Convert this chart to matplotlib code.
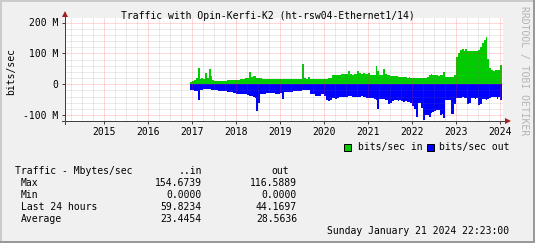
import numpy as np
import matplotlib
matplotlib.use("Agg")
import matplotlib.pyplot as plt
from matplotlib.patches import Rectangle
from matplotlib.lines import Line2D
from matplotlib.transforms import blended_transform_factory, ScaledTranslation

W, H, DPI = 535, 243, 100

# ---------------- data (Mbit/s, half-month averages from mid Dec 2016) ----------------
bins_per_year = 24
start_year = 2016 + 23 / 24
end_year = 2024 + 20.93 / 366

in_2016 = [6]
in_2017 = [12, 14, 19, 54, 17, 19, 18, 36, 20, 50, 26, 14, 12, 11, 11, 11, 11, 12, 12, 13, 13, 14, 14, 14]
in_2018 = [14, 15, 16, 17, 18, 20, 22, 40, 24, 26, 26, 22, 21, 19, 18, 17, 17, 17, 17, 17, 17, 17, 17, 17]
in_2019 = [17, 17, 17, 17, 16, 17, 17, 17, 17, 18, 17, 17, 67, 19, 17, 24, 17, 17, 17, 17, 18, 18, 18, 18]
in_2020 = [18, 18, 19, 20, 29, 30, 31, 31, 30, 32, 32, 33, 32, 43, 32, 31, 33, 32, 43, 36, 35, 36, 35, 32]
in_2021 = [38, 30, 29, 30, 60, 42, 30, 30, 50, 34, 30, 29, 28, 27, 27, 26, 24, 24, 23, 23, 23, 22, 23, 22]
in_2022 = [20, 20, 21, 21, 22, 22, 21, 22, 23, 29, 35, 31, 31, 29, 28, 29, 30, 40, 25, 24, 24, 24, 25, 30]
in_2023 = [90, 100, 112, 113, 107, 113, 108, 107, 108, 107, 107, 107, 110, 122, 135, 145, 155, 83, 52, 45, 42, 45, 46, 46]
in_2024 = [62]

out_2016 = [18]
out_2017 = [20, 21, 22, 50, 18, 17, 15, 16, 15, 16, 17, 18, 20, 20, 21, 21, 22, 22, 23, 24, 25, 26, 27, 28]
out_2018 = [30, 31, 31, 32, 32, 33, 36, 38, 38, 42, 45, 88, 60, 32, 30, 30, 28, 28, 27, 27, 28, 30, 32, 30]
out_2019 = [27, 48, 25, 25, 25, 25, 24, 22, 22, 22, 22, 22, 20, 20, 20, 18, 30, 32, 33, 38, 38, 37, 33, 32]
out_2020 = [38, 52, 54, 50, 43, 45, 47, 46, 42, 40, 40, 41, 40, 38, 38, 40, 40, 41, 42, 40, 39, 41, 40, 43]
out_2021 = [45, 46, 45, 47, 50, 80, 47, 48, 48, 50, 52, 65, 62, 55, 52, 52, 53, 52, 55, 56, 55, 58, 57, 60]
out_2022 = [70, 79, 106, 60, 62, 77, 116, 100, 100, 106, 92, 90, 88, 84, 84, 98, 96, 109, 52, 50, 52, 95, 95, 65]
out_2023 = [43, 45, 43, 42, 45, 44, 63, 60, 46, 46, 47, 45, 66, 65, 49, 48, 50, 49, 44, 41, 40, 41, 49, 40]
out_2024 = [52]

traffic_in = in_2016 + in_2017 + in_2018 + in_2019 + in_2020 + in_2021 + in_2022 + in_2023 + in_2024
traffic_out = out_2016 + out_2017 + out_2018 + out_2019 + out_2020 + out_2021 + out_2022 + out_2023 + out_2024

year_labels = [2015, 2016, 2017, 2018, 2019, 2020, 2021, 2022, 2023, 2024]
y_ticks = [-100e6, 0, 100e6, 200e6]
y_tick_labels = ["-100 M", "0", "100 M", "200 M"]

title = "Traffic with Opin-Kerfi-K2 (ht-rsw04-Ethernet1/14)"
series_names = ["bits/sec in", "bits/sec out"]
stat_names = ["Max", "Min", "Last 24 hours", "Average"]
stats_in = [154.6739, 0.0, 59.8234, 23.4454]
stats_out = [116.5889, 0.0, 44.1697, 28.5636]
timestamp = "Sunday January 21 2024 22:23:00"

# ---------------- style ----------------
GREEN = "#00CC00"
BLUE = "#0000FF"
BACK = "#F0F0F0"
FONT = "DejaVu Sans Mono"
FS = 7
plt.rcParams["font.family"] = [FONT]

fig = plt.figure(figsize=(W / DPI, H / DPI), dpi=DPI, facecolor=BACK)


def fx(px):
    return px / W


def fy(py):
    return 1 - py / H


# plot area in pixels
L, R, T, B = 64.5, 503, 18, 121
ax = fig.add_axes([fx(L), fy(B), fx(R) - fx(L), fy(T) - fy(B)])
ax.set_facecolor("white")
ax.set_xlim(2014.095, 2024.061)
ax.set_ylim(-119e6, 215e6)
for s in ax.spines.values():
    s.set_visible(False)

# data
edges = start_year + np.arange(len(traffic_in) + 1) / bins_per_year
edges[-1] = min(edges[-1], end_year)
vin = np.array(traffic_in, float) * 1e6
vout = np.array(traffic_out, float) * 1e6
ax.fill_between(edges, np.r_[vin, vin[-1]], 0, step="post", color=GREEN, lw=0, zorder=2)
ax.fill_between(edges, -np.r_[vout, vout[-1]], 0, step="post", color=BLUE, lw=0, zorder=2)

# grid (drawn over data, semi-transparent like rrdtool)
minor_kw = dict(color="#707070", alpha=0.28, lw=0.72, ls=(0, (1, 1)), zorder=3)
major_kw = dict(color="#FF3030", alpha=0.36, lw=0.72, ls=(0, (1, 1)), zorder=3)
for v in np.arange(-100e6, 215e6, 20e6):
    if abs(v) % 100e6 < 1:
        ax.axhline(v, **major_kw)
    else:
        ax.axhline(v, **minor_kw)
for yr in range(2014, 2025):
    for q in range(4):
        x = yr + q / 4
        if q == 0:
            if yr in year_labels:
                ax.axvline(x, **major_kw)
        else:
            ax.axvline(x, **minor_kw)

# ticks
ax.set_xticks(year_labels)
ax.set_xticklabels([])
ax.set_yticks(y_ticks)
ax.set_yticklabels([])
ax.tick_params(axis="both", length=2.2, width=0.72, color="#404040", direction="out")

# axes lines with arrows (in pixel space)
AX_COL = "#404040"
ARROW = "#A02020"
fig.add_artist(Line2D([fx(L), fx(L)], [fy(B + 3), fy(15)], color=AX_COL, lw=0.72))
fig.add_artist(Line2D([fx(L - 3), fx(R + 3)], [fy(B), fy(B)], color=AX_COL, lw=0.72))
fig.add_artist(Line2D([fx(L)], [fy(14.5)], marker="^", ms=4.5, color=ARROW, mew=0))
fig.add_artist(Line2D([fx(R + 5)], [fy(B)], marker=">", ms=4.5, color=ARROW, mew=0))

# text helpers
down = ScaledTranslation(0, -3.5 / DPI, fig.dpi_scale_trans)
ylab_tr = blended_transform_factory(fig.transFigure, ax.transData) + down
xlab_tr = blended_transform_factory(ax.transData, fig.transFigure)

for v, lab in zip(y_ticks, y_tick_labels):
    fig.text(fx(58), v, lab, transform=ylab_tr, ha="right", va="baseline", fontsize=FS)
for yr in year_labels:
    fig.text(yr, fy(135), str(yr), transform=xlab_tr, ha="center", va="baseline", fontsize=FS)

fig.text(0.5, fy(19), title, ha="center", va="baseline", fontsize=FS)
fig.text(fx(11), fy(71.5), "bits/sec", rotation=90, ha="center", va="center", fontsize=FS)
fig.text(fx(523.5), fy(71), "RRDTOOL / TOBI OETIKER", rotation=270, ha="center", va="center",
         fontsize=FS, color="#B4B4B4")

# legend
for (sx, tx), col, name in zip([(344, 357.8), (426.7, 439.3)], [GREEN, BLUE], series_names):
    fig.add_artist(Rectangle((fx(sx), fy(151)), fx(7), 7 / H, facecolor=col, edgecolor="black",
                             lw=0.72, transform=fig.transFigure))
    fig.text(fx(tx), fy(150), name, ha="left", va="baseline", fontsize=FS)

# stats block
fig.text(fx(15), fy(174), "Traffic - Mbytes/sec", ha="left", va="baseline", fontsize=FS)
fig.text(fx(201.7), fy(174), "..in", ha="right", va="baseline", fontsize=FS)
fig.text(fx(288.7), fy(174), "out", ha="right", va="baseline", fontsize=FS)
for i, (n, a, b) in enumerate(zip(stat_names, stats_in, stats_out)):
    yb = 186 + 12 * i
    fig.text(fx(20.7), fy(yb), n, ha="left", va="baseline", fontsize=FS)
    fig.text(fx(201.7), fy(yb), f"{a:.4f}", ha="right", va="baseline", fontsize=FS)
    fig.text(fx(297), fy(yb), f"{b:.4f}", ha="right", va="baseline", fontsize=FS)
fig.text(fx(509.3), fy(234), timestamp, ha="right", va="baseline", fontsize=FS)

# 3D-ish border
def rect_px(x, y, w, h, col):
    fig.add_artist(Rectangle((fx(x), fy(y + h)), w / W, h / H, facecolor=col, edgecolor="none",
                             lw=0, transform=fig.transFigure, antialiased=False))

rect_px(0, 0, W, 2, "#CBCBCB")
rect_px(0, 0, 2, H, "#CBCBCB")
rect_px(0, H - 2, W, 2, "#999999")
rect_px(W - 2, 0, 2, H, "#999999")

fig.savefig("out.png", dpi=DPI, facecolor=BACK)
